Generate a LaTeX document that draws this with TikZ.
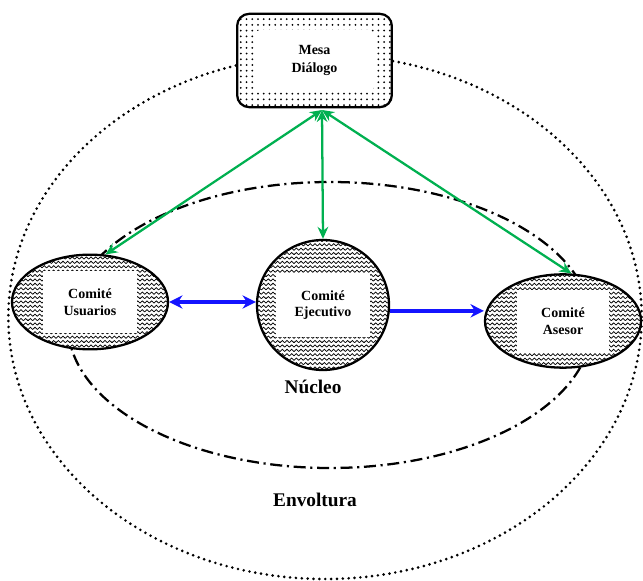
\documentclass[tikz,border=0pt]{standalone}
\usepackage{fontspec}
\setmainfont{Liberation Serif}
\usetikzlibrary{shapes.geometric,patterns,arrows.meta,calc}
\pgfdeclarepatternformonly{zigzagp}{\pgfqpoint{-0.5pt}{-0.5pt}}{\pgfqpoint{4pt}{3.8pt}}{\pgfqpoint{3.5pt}{3.3pt}}{%
  \pgfsetlinewidth{0.55pt}%
  \pgfpathmoveto{\pgfqpoint{0pt}{0.5pt}}%
  \pgfpathlineto{\pgfqpoint{1.75pt}{2.2pt}}%
  \pgfpathlineto{\pgfqpoint{3.5pt}{0.5pt}}%
  \pgfusepath{stroke}}
\pgfdeclarepatternformonly{dotsp}{\pgfqpoint{-1pt}{-1pt}}{\pgfqpoint{1pt}{1pt}}{\pgfqpoint{4.3pt}{4.3pt}}{%
  \pgfpathcircle{\pgfqpoint{0pt}{0pt}}{0.75pt}%
  \pgfusepath{fill}}
\tikzset{
  comite/.style={ellipse, draw=black, line width=1.7pt, preaction={fill=white}, pattern=zigzagp, inner sep=0pt,
    font=\fontsize{10.5}{12.5}\selectfont\bfseries, align=center},
  whiterect/.style n args={2}{path picture={\fill[white] ($(path picture bounding box.center)+(-#1/2,-#2/2)$) rectangle ($(path picture bounding box.center)+(#1/2,#2/2)$);}},
  mesabox/.style={rectangle, rounded corners=9pt, draw=black, line width=1.7pt, preaction={fill=white}, pattern=dotsp,
    minimum width=116pt, minimum height=70pt, inner sep=0pt,
    font=\fontsize{10.5}{13.5}\selectfont\bfseries, align=center},
  garrow/.style={draw={rgb,255:red,0;green,176;blue,80}, line width=1.7pt, {Stealth[length=9pt,width=8pt]}-{Stealth[length=9pt,width=8pt]}},
  barrow/.style={draw={rgb,255:red,20;green,20;blue,255}, line width=2.7pt},
  biglabel/.style={font=\fontsize{14.5}{16}\selectfont\bfseries}
}
\begin{document}
\begin{tikzpicture}[x=0.75pt,y=-0.75pt]
\useasboundingbox (0,0) rectangle (643,581);
% outer dotted ellipse
\draw[line width=2.2pt, line cap=round, dash pattern=on 0pt off 4.4pt] (325,317) ellipse [x radius=237.5pt, y radius=196.5pt];
% inner dash-dot ellipse
\draw[line width=1.7pt, dash pattern=on 9pt off 3.5pt on 1.6pt off 3.5pt] (330,325) ellipse [x radius=196.5pt, y radius=107.25pt];
% nodes
\node[mesabox, path picture={\fill[white, rounded corners=5pt] ($(path picture bounding box.center)+(-45pt,-23pt)$) rectangle ($(path picture bounding box.center)+(45pt,23pt)$);}] (mesa) at (314.5,60.5) {Mesa\\Diálogo};
\node[comite, minimum width=117pt, minimum height=71pt, whiterect={70.5pt}{47pt}] (usu) at (90,302) {Comité\\Usuarios};
\node[comite, minimum width=99pt, minimum height=97.5pt, whiterect={70pt}{48pt}] (ej) at (323,305) {Comité\\Ejecutivo};
\node[comite, minimum width=117pt, minimum height=70pt, whiterect={69pt}{46.5pt}] (ase) at (563,321) {Comité\\Asesor};
% green arrows
\coordinate (top) at (322,110);
\draw[garrow] (top) -- (usu.72);
\draw[garrow] (top) -- (ej.north);
\draw[garrow] (top) -- (ase.80);
% blue arrows
\draw[barrow, {Stealth[length=10pt,width=10pt]}-{Stealth[length=10pt,width=10pt]}] (usu.east) -- (usu.east -| ej.west);
\draw[barrow, -{Stealth[length=10pt,width=10pt]}] (ej.-5) -- (ej.-5 -| ase.west);
% labels
\node[biglabel] (nucleo) at (313,387) {Núcleo};
\node[biglabel] (envoltura) at (315,500) {Envoltura};
\end{tikzpicture}
\end{document}
